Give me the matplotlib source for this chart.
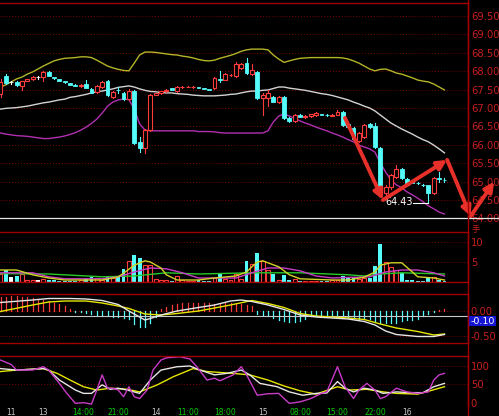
import matplotlib
matplotlib.use("Agg")
import matplotlib.pyplot as plt
from matplotlib.patches import Rectangle
from matplotlib.lines import Line2D

W, H = 499, 416

# ---- candles (one per bar, left to right) ----
opens = [67.38, 67.86, 67.70, 67.71, 67.60, 67.74, 67.78, 67.83, 67.83, 67.98,
         67.84, 67.79, 67.73, 67.68, 67.63, 67.60, 67.65, 67.52, 67.44, 67.57,
         67.73, 67.30, 67.50, 67.41, 67.25, 67.46, 66.08, 65.91, 66.40, 67.36,
         67.40, 67.45, 67.53, 67.45, 67.57, 67.57, 67.56, 67.56, 67.54, 67.51,
         67.54, 67.79, 67.77, 67.90, 67.86, 68.08, 68.22, 67.93, 67.98, 67.28,
         67.28, 67.30, 67.15, 67.30, 66.73, 66.65, 66.81, 66.76, 66.77, 66.80,
         66.83, 66.82, 66.78, 66.81, 66.89, 66.56, 66.45, 66.10, 66.21, 66.56,
         66.52, 65.91, 64.69, 64.85, 65.12, 65.34, 65.08, 64.99, 64.96, 64.92,
         64.90, 64.69, 65.10, 65.05]
closes = [67.70, 67.68, 67.70, 67.62, 67.72, 67.78, 67.84, 67.83, 67.98, 67.87,
          67.81, 67.74, 67.70, 67.63, 67.60, 67.63, 67.54, 67.41, 67.60, 67.71,
          67.35, 67.44, 67.48, 67.25, 67.46, 66.05, 65.91, 66.40, 67.35, 67.40,
          67.45, 67.50, 67.50, 67.58, 67.58, 67.58, 67.57, 67.55, 67.52, 67.49,
          67.82, 67.77, 67.92, 67.91, 68.19, 68.19, 67.95, 68.02, 67.27, 67.35,
          67.41, 67.17, 67.30, 66.73, 66.64, 66.81, 66.76, 66.78, 66.83, 66.86,
          66.81, 66.80, 66.82, 66.89, 66.54, 66.48, 66.15, 66.32, 66.54, 66.48,
          65.94, 64.72, 64.85, 65.18, 65.33, 65.10, 64.92, 64.97, 64.95, 64.90,
          64.68, 65.10, 65.08, 65.03]
highs = [67.80, 67.92, 67.74, 67.73, 67.74, 67.80, 67.86, 67.86, 68.01, 68.00,
         67.85, 67.80, 67.74, 67.69, 67.64, 67.65, 67.76, 67.53, 67.62, 67.73,
         67.75, 67.47, 67.56, 67.43, 67.52, 67.48, 66.20, 66.42, 67.37, 67.42,
         67.47, 67.52, 67.55, 67.60, 67.60, 67.60, 67.59, 67.57, 67.55, 67.52,
         67.84, 68.00, 67.94, 67.93, 68.25, 68.21, 68.35, 68.20, 68.00, 67.42,
         67.50, 67.32, 67.32, 67.32, 66.75, 66.83, 66.83, 66.80, 66.85, 66.88,
         66.85, 66.84, 66.84, 66.95, 66.91, 66.58, 66.47, 66.34, 66.57, 66.60,
         66.60, 65.93, 64.92, 65.22, 65.45, 65.36, 65.10, 65.02, 64.98, 64.94,
         64.92, 65.12, 65.27, 65.10]
lows = [67.30, 67.65, 67.66, 67.59, 67.50, 67.72, 67.76, 67.80, 67.73, 67.86,
        67.80, 67.73, 67.69, 67.62, 67.59, 67.58, 67.53, 67.40, 67.42, 67.55,
        67.33, 67.27, 67.40, 67.23, 67.23, 66.03, 65.80, 65.78, 66.38, 67.34,
        67.39, 67.44, 67.49, 67.44, 67.55, 67.56, 67.55, 67.54, 67.51, 67.48,
        67.52, 67.70, 67.75, 67.88, 67.84, 68.06, 67.93, 67.90, 67.25, 66.81,
        67.05, 67.15, 67.13, 66.71, 66.62, 66.63, 66.75, 66.74, 66.76, 66.79,
        66.80, 66.79, 66.77, 66.80, 66.52, 66.46, 66.13, 66.08, 66.19, 66.46,
        65.92, 64.68, 64.52, 64.80, 65.10, 65.08, 64.90, 64.95, 64.93, 64.88,
        64.43, 64.67, 65.00, 64.98]

# ---- bollinger bands ----
boll_up = [67.57, 67.63, 67.71, 67.79, 67.84, 67.92, 67.98, 68.06, 68.14, 68.21,
           68.28, 68.32, 68.35, 68.36, 68.37, 68.39, 68.39, 68.37, 68.30, 68.22,
           68.14, 68.09, 68.05, 68.02, 68.01, 68.22, 68.44, 68.52, 68.52, 68.51,
           68.49, 68.47, 68.45, 68.44, 68.41, 68.39, 68.36, 68.32, 68.29, 68.28,
           68.30, 68.35, 68.39, 68.43, 68.48, 68.54, 68.58, 68.60, 68.60, 68.60,
           68.58, 68.44, 68.33, 68.24, 68.28, 68.32, 68.35, 68.36, 68.37, 68.37,
           68.37, 68.37, 68.37, 68.37, 68.36, 68.33, 68.28, 68.22, 68.14, 68.06,
           68.01, 68.05, 68.06, 68.01, 67.95, 67.92, 67.87, 67.82, 67.76, 67.73,
           67.71, 67.65, 67.57, 67.49]
boll_mid = [66.97, 66.99, 67.00, 67.01, 67.03, 67.05, 67.08, 67.11, 67.14, 67.16,
            67.19, 67.22, 67.24, 67.29, 67.31, 67.34, 67.37, 67.41, 67.44, 67.46,
            67.49, 67.52, 67.56, 67.58, 67.60, 67.57, 67.52, 67.48, 67.45, 67.44,
            67.42, 67.41, 67.41, 67.39, 67.38, 67.37, 67.35, 67.34, 67.33, 67.33,
            67.33, 67.34, 67.35, 67.37, 67.38, 67.41, 67.44, 67.46, 67.46, 67.48,
            67.49, 67.53, 67.57, 67.57, 67.54, 67.52, 67.50, 67.48, 67.45, 67.42,
            67.39, 67.37, 67.34, 67.30, 67.26, 67.22, 67.16, 67.11, 67.05, 67.00,
            66.92, 66.81, 66.70, 66.59, 66.51, 66.43, 66.36, 66.29, 66.21, 66.14,
            66.08, 65.99, 65.89, 65.78]
boll_low = [66.32, 66.29, 66.27, 66.25, 66.24, 66.23, 66.21, 66.19, 66.17, 66.17,
            66.19, 66.21, 66.24, 66.28, 66.33, 66.40, 66.48, 66.58, 66.70, 66.86,
            67.05, 67.16, 67.22, 67.24, 67.23, 66.97, 66.57, 66.40, 66.38, 66.38,
            66.38, 66.38, 66.38, 66.38, 66.38, 66.38, 66.38, 66.36, 66.36, 66.36,
            66.35, 66.33, 66.32, 66.32, 66.32, 66.32, 66.32, 66.32, 66.32, 66.32,
            66.38, 66.62, 66.78, 66.84, 66.78, 66.72, 66.65, 66.59, 66.54, 66.48,
            66.43, 66.38, 66.32, 66.27, 66.21, 66.14, 66.08, 65.99, 65.94, 65.89,
            65.80, 65.51, 65.26, 65.04, 64.91, 64.83, 64.72, 64.64, 64.55, 64.45,
            64.34, 64.26, 64.17, 64.12]

# ---- volume ----
volume = [2.0, 2.9, 1.2, 1.4, 2.1, 0.6, 0.5, 0.4, 0.8, 0.6,
          0.4, 0.3, 0.3, 0.3, 0.3, 0.4, 0.8, 1.2, 1.0, 0.6,
          1.4, 1.0, 1.6, 3.2, 5.2, 6.7, 6.1, 4.2, 4.2, 0.8,
          0.5, 0.4, 0.3, 1.4, 0.4, 0.3, 0.3, 0.4, 0.3, 0.3,
          0.9, 1.9, 0.8, 0.4, 1.9, 0.8, 5.2, 4.6, 7.3, 5.2,
          3.1, 1.9, 0.6, 1.7, 0.5, 0.8, 0.3, 0.3, 0.3, 0.3,
          0.3, 0.3, 0.4, 0.6, 1.4, 1.1, 1.3, 0.8, 0.9, 0.9,
          3.9, 9.6, 4.9, 3.8, 3.1, 2.2, 0.6, 0.5, 0.3, 0.3,
          1.0, 1.2, 0.5, 0.3]
vol_ma1_x = [0, 3, 6, 9, 12, 19, 21, 22, 23, 25, 27, 28, 30, 31, 33, 37, 40, 44,
             46, 47, 48, 49, 52, 54, 56, 62, 65, 68, 70, 71, 73, 75, 77, 78, 81, 83]
vol_ma1 = [3.0, 3.0, 1.8, 1.0, 0.5, 0.5, 1.0, 1.3, 2.2, 4.2, 5.3, 5.0, 3.5, 1.8,
           0.5, 0.5, 1.0, 1.5, 2.5, 3.8, 5.0, 5.3, 3.8, 1.8, 0.8, 0.5, 0.5, 1.2,
           2.5, 4.2, 4.8, 4.8, 2.5, 1.3, 1.0, 0.5]
vol_ma2_x = [0, 6, 9, 12, 19, 22, 25, 28, 31, 34, 37, 44, 47, 50, 53, 56, 59, 62,
             69, 72, 75, 78, 81, 83]
vol_ma2 = [2.3, 2.3, 1.3, 0.8, 0.8, 1.3, 2.5, 3.5, 3.3, 2.3, 1.0, 1.0, 2.3, 3.5,
           3.5, 2.8, 1.5, 1.0, 1.3, 2.5, 3.0, 3.0, 2.3, 1.5]
vol_ma3_x = [0, 9, 19, 25, 31, 37, 47, 56, 65, 68, 71, 75, 83]
vol_ma3 = [2.1, 2.0, 1.3, 1.5, 2.3, 2.0, 2.3, 2.3, 1.8, 1.5, 2.0, 2.3, 2.0]

# ---- MACD ----
macd_hist = [0.28, 0.29, 0.30, 0.30, 0.29, 0.28, 0.26, 0.24, 0.22, 0.20,
             0.17, 0.14, 0.10, 0.04, -0.01, -0.02, -0.04, -0.06, -0.08, -0.09,
             -0.10, -0.11, -0.12, -0.14, -0.16, -0.26, -0.32, -0.32, -0.24, -0.12,
             0.04, 0.08, 0.12, 0.14, 0.16, 0.16, 0.16, 0.17, 0.16, 0.16,
             0.15, 0.15, 0.16, 0.16, 0.15, 0.14, 0.12, 0.10, -0.05, -0.08,
             -0.10, -0.14, -0.17, -0.20, -0.22, -0.22, -0.20, -0.15, -0.09, -0.09,
             -0.09, -0.09, -0.09, -0.10, -0.12, -0.12, -0.13, -0.15, -0.15, -0.16,
             -0.22, -0.24, -0.24, -0.24, -0.23, -0.20, -0.18, -0.18, -0.16, -0.10,
             -0.06, -0.02, 0.03, 0.05]
dif_x = [0, 6, 9, 13, 16, 19, 22, 24, 26, 27, 28, 30, 33, 37, 40, 43, 45, 47, 50,
         53, 56, 59, 62, 65, 68, 70, 72, 74, 78, 81, 83]
dif = [0.17, 0.22, 0.25, 0.25, 0.24, 0.21, 0.13, 0.0, -0.12, -0.18, -0.15, -0.08,
       0.0, 0.07, 0.12, 0.20, 0.22, 0.19, 0.12, 0.03, -0.08, -0.12, -0.14, -0.16,
       -0.21, -0.28, -0.40, -0.47, -0.51, -0.51, -0.47]
dea_x = [0, 6, 9, 12, 16, 19, 22, 24, 27, 30, 33, 37, 43, 47, 50, 53, 56, 59, 65,
         68, 71, 74, 78, 81, 83]
dea = [-0.01, 0.12, 0.18, 0.20, 0.20, 0.16, 0.10, 0.05, -0.06, -0.08, -0.05, 0.0,
       0.12, 0.21, 0.15, 0.07, -0.05, -0.10, -0.14, -0.17, -0.26, -0.34, -0.41,
       -0.48, -0.46]
macd_last = -0.10

# ---- KDJ ----
k_x = [0, 3, 8, 9, 11, 14, 15.5, 17, 19, 20.5, 22, 23.7, 26, 28, 30, 33, 35.4,
       37.3, 40, 42.3, 45, 46.6, 48.5, 51.7, 54, 56.5, 59, 61, 63, 64.4, 66, 68,
       70, 71.5, 74, 76.5, 79, 81, 83]
k_val = [93, 89, 93, 89, 62, 35, 26, 26, 49, 37, 40, 35, 26, 62, 89, 98, 100, 89,
         76, 80, 89, 76, 53, 44, 30, 21, 26, 27, 58, 40, 30, 40, 35, 26, 30, 28,
         28, 44, 53]
d_x = [0, 3, 8, 10.6, 13, 15.5, 18, 20.5, 23.7, 26, 29.3, 32.3, 36, 38.6, 43.5,
       46.6, 50, 53, 56, 59, 63, 65.3, 68.5, 71.5, 74, 78, 80.3, 83]
d_val = [85, 89, 93, 80, 62, 44, 35, 40, 37, 30, 49, 71, 93, 85, 80, 76, 62, 46,
         33, 24, 44, 35, 37, 30, 26, 24, 33, 44]
j_x = [0, 2, 3, 6, 8, 9, 11, 12.4, 14, 15.5, 17, 18, 19, 20, 21, 22, 23, 24, 25,
       26, 27.4, 28.5, 30, 31, 33.5, 35.4, 36.7, 38.6, 40, 41, 43.5, 45, 46, 48,
       50, 52, 53, 54, 56, 58, 60, 61, 63, 64.4, 66, 67, 68.5, 70, 71, 72, 74,
       76, 78, 80, 81, 82, 83]
j_val = [116, 104, 89, 89, 98, 89, 53, 26, -1, 1, -3, 35, 76, 40, 40, 35, 17, 44,
         17, 12, 35, 89, 116, 122, 125, 119, 98, 62, 67, 60, 76, 98, 76, 21, 25,
         26, 12, -1, 3, 12, 26, 30, 98, 44, 12, 35, 53, 35, 12, 17, 40, 30, 26,
         30, 62, 76, 80]

# ---- time axis ----
time_pos = [2, 8, 15.5, 22, 29, 35, 42, 49, 56, 63, 70, 76]
time_labels = ["11", "13", "14:00", "21:00", "14", "11:00", "18:00", "15",
               "08:00", "15:00", "22:00", "16"]

low_label = "64.43"
price_ticks = [64.0, 64.5, 65.0, 65.5, 66.0, 66.5, 67.0, 67.5, 68.0, 68.5, 69.0, 69.5]

# ---- style ----
BG = "black"
RED = "#ff3c3c"
CYAN = "#54fcfc"
FRAME = "#a00000"
GRID = "#7a0000"
LABEL = "#c81e1e"
YEL = "#d2d228"
MAG = "#c83cc8"

plt.rcParams.update({"font.family": ["DejaVu Sans", "Noto Sans CJK SC"],
                     "font.size": 7})

fig = plt.figure(figsize=(W / 100, H / 100), dpi=100, facecolor=BG)


def px_axes(x0, y0, x1, y1):
    ax = fig.add_axes([x0 / W, 1 - y1 / H, (x1 - x0) / W, (y1 - y0) / H])
    ax.set_facecolor(BG)
    ax.set_xlim(-0.1, 87.4)
    ax.spines["left"].set_visible(False)
    for side in ("top", "bottom", "right"):
        ax.spines[side].set_color(FRAME)
        ax.spines[side].set_linewidth(1.0)
    ax.yaxis.tick_right()
    ax.tick_params(axis="y", length=0, pad=2, labelcolor=LABEL, labelsize=7.2)
    ax.tick_params(axis="x", length=0, labelbottom=False)
    return ax


def dotted_grid(ax, levels):
    for v in levels:
        ax.axhline(v, color=GRID, lw=0.7, ls=(0, (1, 2)), zorder=0)


def candle_color(o, c):
    if c > o:
        return RED
    if c < o:
        return CYAN
    return "white"


# price panel
ax = px_axes(0, 3, 468, 218.4)
ax.set_ylim(64.0, 69.853)
ax.set_yticks(price_ticks)
ax.set_yticklabels([f"{v:.2f}" for v in price_ticks])
ax.spines["bottom"].set_visible(False)
dotted_grid(ax, price_ticks)
idx = list(range(len(opens)))
ax.plot(idx, boll_up, color="#b4b428", lw=1.0)
ax.plot(idx, boll_mid, color="#d2d2d2", lw=1.0)
ax.plot(idx, boll_low, color="#b030b0", lw=1.0)
bw = 0.72
for i, (o, c, h, l) in enumerate(zip(opens, closes, highs, lows)):
    col = candle_color(o, c)
    lo, hi = min(o, c), max(o, c)
    ax.plot([i, i], [l, lo], color=col, lw=0.8)
    ax.plot([i, i], [hi, h], color=col, lw=0.8)
    body = max(hi - lo, 0.008)
    if col == RED:
        ax.add_patch(Rectangle((i - bw / 2, lo), bw, body, facecolor=BG,
                               edgecolor=col, lw=0.8, zorder=3))
    else:
        ax.add_patch(Rectangle((i - bw / 2, lo), bw, body, facecolor=col,
                               edgecolor=col, lw=0.6, zorder=3))

# lowest price marker
low_i = lows.index(min(lows))
ax.plot([low_i - 2.8, low_i], [min(lows), min(lows)], color="white", lw=0.8)
ax.text(low_i - 2.9, min(lows) + 0.02, low_label, color="white", fontsize=7,
        ha="right", va="center")

# red hand-drawn arrows
arrow_pts = [(64.4, 66.73), (71.5, 64.50), (83.5, 65.59), (87.9, 64.06), (92.3, 65.0)]
for (x0, y0), (x1, y1) in zip(arrow_pts[:-1], arrow_pts[1:]):
    ax.annotate("", xy=(x1, y1), xytext=(x0, y0), annotation_clip=False,
                arrowprops=dict(arrowstyle="-|>", color="#e8302a", lw=2.8,
                                mutation_scale=14, shrinkA=0, shrinkB=0),
                zorder=6)

# volume panel
axv = px_axes(0, 232, 468, 282)
axv.set_ylim(0, 12.5)
axv.set_yticks([5, 10])
axv.set_yticklabels(["5", "10"])
dotted_grid(axv, [5, 10])
for i, (o, c, v) in enumerate(zip(opens, closes, volume)):
    col = candle_color(o, c)
    if col == RED:
        axv.bar(i, v, width=0.72, facecolor=BG, edgecolor=col, lw=0.8, zorder=2)
    else:
        axv.bar(i, v, width=0.72, color=col, zorder=2)
axv.plot(vol_ma3_x, vol_ma3, color="#28c828", lw=1.0, zorder=3)
axv.plot(vol_ma2_x, vol_ma2, color=MAG, lw=1.0, zorder=3)
axv.plot(vol_ma1_x, vol_ma1, color=YEL, lw=1.0, zorder=3)
fig.text(472 / W, 1 - 229 / H, "手", color=LABEL, fontsize=6,
         ha="left", va="center", family=["Noto Sans CJK SC", "DejaVu Sans"])

# MACD panel
axm = px_axes(0, 294, 468, 343)
axm.set_ylim(-0.64, 0.34)
axm.set_yticks([0.0, -0.5])
axm.set_yticklabels(["0.00", "-0.50"])
dotted_grid(axm, [0.0, -0.5])
for i, hv in enumerate(macd_hist):
    axm.plot([i, i], [0, hv], color=RED if hv > 0 else CYAN, lw=0.9)
axm.axhline(macd_last, color="#c8c8c8", lw=0.8)
axm.plot(dea_x, dea, color="#e6e600", lw=1.0)
axm.plot(dif_x, dif, color="#e6e6e6", lw=1.0)
axm.text(1.005, macd_last - 0.10, f"{macd_last:.2f}",
         transform=axm.get_yaxis_transform(), color="white", fontsize=6.8,
         ha="left", va="center",
         bbox=dict(facecolor="#1414d2", edgecolor="none", pad=0.6))

# KDJ panel
axk = px_axes(0, 356, 468, 406)
axk.set_ylim(-8.1, 127)
axk.set_yticks([0, 50, 100])
axk.set_yticklabels(["0", "50", "100"])
axk.spines["bottom"].set_visible(False)
dotted_grid(axk, [50, 100])
axk.plot(d_x, d_val, color="#e6e600", lw=1.0)
axk.plot(k_x, k_val, color="#e6e6e6", lw=1.0)
axk.plot(j_x, j_val, color=MAG, lw=1.0)
axk.set_xticks(time_pos)
axk.set_xticklabels(time_labels)
axk.tick_params(axis="x", labelbottom=True, labelsize=5.5, pad=1.5)
for lab in axk.get_xticklabels():
    lab.set_color("#00d000" if ":" in lab.get_text() else "#c8c8c8")

# frame lines spanning the whole figure
fig.add_artist(Line2D([0, 1], [1 - 218.4 / H] * 2, color="#e6e6e6", lw=0.9))
fig.add_artist(Line2D([468 / W] * 2, [0, 1], color=FRAME, lw=1.0))

fig.savefig("out.png", dpi=100, facecolor=BG)
